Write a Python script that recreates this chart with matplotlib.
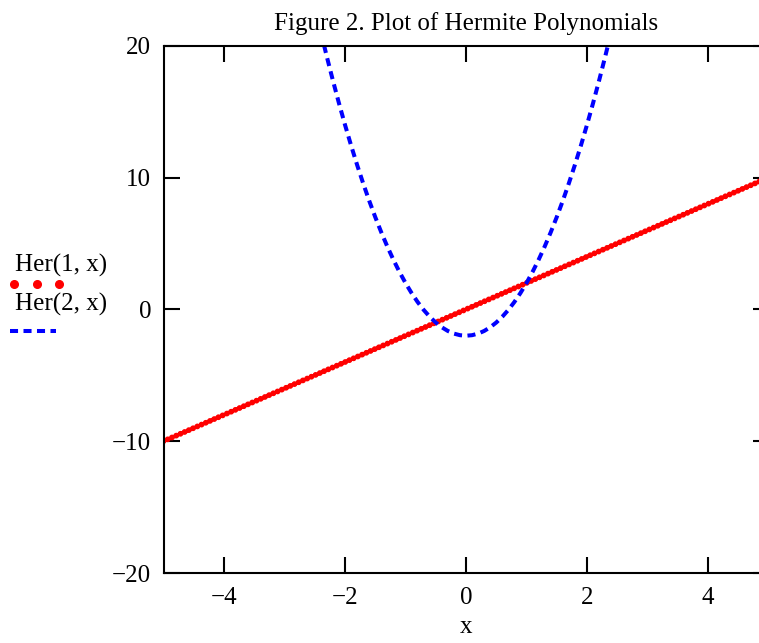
import matplotlib
matplotlib.use('Agg')
import matplotlib.pyplot as plt
from matplotlib.lines import Line2D

# données
x_her1 = [-5.0, 5.0]
y_her1 = [-10.0, 10.0]

x_her2 = [-2.4, -2.3, -2.2, -2.1, -2.0, -1.9, -1.8, -1.7, -1.6, -1.5, -1.4, -1.3,
          -1.2, -1.1, -1.0, -0.9, -0.8, -0.7, -0.6, -0.5, -0.4, -0.3, -0.2, -0.1,
          0.0, 0.1, 0.2, 0.3, 0.4, 0.5, 0.6, 0.7, 0.8, 0.9, 1.0, 1.1, 1.2, 1.3,
          1.4, 1.5, 1.6, 1.7, 1.8, 1.9, 2.0, 2.1, 2.2, 2.3, 2.4]
y_her2 = [21.04, 19.16, 17.36, 15.64, 14.0, 12.44, 10.96, 9.56, 8.24, 7.0, 5.84, 4.76,
          3.76, 2.84, 2.0, 1.24, 0.56, -0.04, -0.56, -1.0, -1.36, -1.64, -1.84, -1.96,
          -2.0, -1.96, -1.84, -1.64, -1.36, -1.0, -0.56, -0.04, 0.56, 1.24, 2.0, 2.84, 3.76, 4.76,
          5.84, 7.0, 8.24, 9.56, 10.96, 12.44, 14.0, 15.64, 17.36, 19.16, 21.04]

x_ticks = [-4, -2, 0, 2, 4]
y_ticks = [-20, -10, 0, 10, 20]
legend_labels = ['Her(1, x)', 'Her(2, x)']

plt.rcParams['font.family'] = ['Liberation Serif', 'DejaVu Serif']
plt.rcParams['axes.unicode_minus'] = True

FS = 18
W, H = 759, 643
fig = plt.figure(figsize=(W / 100, H / 100), dpi=100)
ax = fig.add_axes([163.5 / W, 70 / H, 605 / W, 527.3 / H])

ax.plot(x_her1, y_her1, color='red', lw=4.2, linestyle=(0, (0.01, 0.78)),
        dash_capstyle='round')
ax.plot(x_her2, y_her2, color='blue', lw=2.9, linestyle=(0, (2.0, 1.35)),
        dash_capstyle='butt', solid_joinstyle='round')

ax.set_xlim(-5, 5)
ax.set_ylim(-20, 20)
ax.set_xticks(x_ticks)
ax.set_yticks(y_ticks)
ax.set_xticklabels(['\u22124', '\u22122', '0', '2', '4'])
ax.set_yticklabels(['\u221220', '\u221210', '0', '10', '20'])
ax.tick_params(direction='in', length=11.5, width=1.5, top=True, right=True,
               labelsize=FS)
ax.tick_params(axis='x', pad=10)
ax.tick_params(axis='y', pad=9)
for s in ax.spines.values():
    s.set_linewidth(1.5)

ax.set_xlabel('x', fontsize=FS, labelpad=5)
fig.text(466 / W, 1 - 24 / H, 'Figure 2. Plot of Hermite Polynomials',
         ha='center', va='center', fontsize=FS)

# légende à gauche, façon Mathcad
fig.text(15 / W, 1 - 265 / H, legend_labels[0], ha='left', va='center', fontsize=FS)
fig.text(15 / W, 1 - 304 / H, legend_labels[1], ha='left', va='center', fontsize=FS)
fig.add_artist(Line2D([14 / W, 36.5 / W, 59 / W], [1 - 284 / H] * 3,
                      transform=fig.transFigure, color='red', marker='o',
                      markersize=5.5, linestyle='none'))
fig.add_artist(Line2D([10 / W, 56 / W], [1 - 331 / H] * 2,
                      transform=fig.transFigure, color='blue', lw=2.9,
                      linestyle=(0, (2.0, 1.35)), dash_capstyle='butt'))

fig.savefig('out.png', dpi=100)
